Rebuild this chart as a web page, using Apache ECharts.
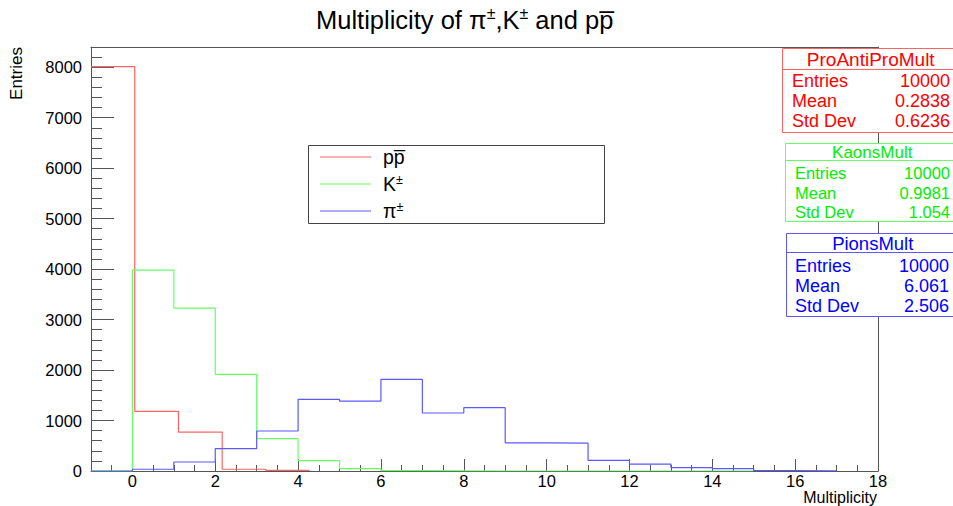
<!DOCTYPE html>
<html><head><meta charset="utf-8">
<script src="https://cdn.jsdelivr.net/npm/echarts@6/dist/echarts.min.js"></script>
<style>html,body{margin:0;padding:0;background:#fff}#c{width:953px;height:506px}</style>
</head><body><div id="c"></div>
<script>
// ---------- data ----------
const protonEdges  = [-1, 0.056, 1.111, 2.167, 3.222, 4.278];
const protonCounts = [8010, 1182, 772, 35, 12];
const kaonEdges    = [-1, 0, 1, 2, 3, 4, 5, 6, 7, 8, 9, 10, 11, 12, 13, 14, 15];
const kaonCounts   = [0, 3980, 3228, 1915, 641, 206, 48, 6, 2, 0, 0, 0, 0, 0, 0, 0];
const pionEdges    = [-1, 0, 1, 2, 3, 4, 5, 6, 7, 8, 9, 10, 11, 12, 13, 14, 15, 16, 17];
const pionCounts   = [0, 35, 178, 443, 792, 1420, 1386, 1816, 1149, 1255, 558, 552, 210, 138, 67, 48, 8, 3];
const seriesNames  = ['pp\u0305', 'K±', 'π±'];
const xMajorTicks  = [0, 2, 4, 6, 8, 10, 12, 14, 16, 18];
const yMajorTicks  = [0, 1000, 2000, 3000, 4000, 5000, 6000, 7000, 8000];
const statNames    = ['ProAntiProMult', 'KaonsMult', 'PionsMult'];
const statEntries  = ['10000', '10000', '10000'];
const statMeans    = ['0.2838', '0.9981', '6.061'];
const statStdDevs  = ['0.6236', '1.054', '2.506'];
const titleText    = 'Multiplicity of π±,K± and pp\u0305';
const xAxisTitle   = 'Multiplicity';
const yAxisTitle   = 'Entries';

// ---------- helpers ----------
const FONT = '"Liberation Sans", Arial, Helvetica, sans-serif';
const COLORS = ['#ff0000', '#00ee00', '#0000ff'];
const LINE_COLORS = ['#ff6464', '#66ff66', '#5a5aff'];
const AX = '#555';
function stepData(edges, counts) {
  const d = counts.map((c, i) => [edges[i], c]);
  d.push([edges[edges.length - 1], counts[counts.length - 1]]);
  return d;
}
function sup(s) { return s.replace(/±/g, '{s|±}'); }
const xMinor = []; for (let v = -0.5; v <= 17.5; v += 0.5) xMinor.push(v);
const yMinor = []; for (let v = 200; v <= 8400; v += 200) yMinor.push(v);

const hist = [[protonEdges, protonCounts], [kaonEdges, kaonCounts], [pionEdges, pionCounts]];

// stat boxes (annotation layout)
const boxes = [
  {x: 782.5, y: 48.5, h: 84, sep: 69.5, ty: 59, tf: 19, rows: [81, 101, 121], rf: 18, lx: 792, rx: 950},
  {x: 785.5, y: 143.5, h: 78, sep: 160.5, ty: 152.5, tf: 17, rows: [173, 192.5, 211.5], rf: 16.5, lx: 795, rx: 950},
  {x: 786.5, y: 233.5, h: 83, sep: 252.5, ty: 243, tf: 18.5, rows: [265.5, 285.5, 306], rf: 18, lx: 795, rx: 949}
];
const graphics = [];
boxes.forEach((b, i) => {
  const col = COLORS[i];
  graphics.push({type: 'rect', z: 100, shape: {x: b.x, y: b.y, width: 200, height: b.h},
    style: {fill: '#fff', stroke: LINE_COLORS[i], lineWidth: 1}});
  graphics.push({type: 'line', z: 101, shape: {x1: b.x, y1: b.sep, x2: 953, y2: b.sep},
    style: {stroke: LINE_COLORS[i], lineWidth: 1}});
  graphics.push({type: 'text', z: 102, style: {text: statNames[i], x: (b.x + 953) / 2 + 3, y: b.ty,
    align: 'center', verticalAlign: 'middle', fill: col, fontSize: b.tf, fontFamily: FONT}});
  const labels = ['Entries', 'Mean', 'Std Dev'];
  const vals = [statEntries[i], statMeans[i], statStdDevs[i]];
  labels.forEach((l, k) => {
    graphics.push({type: 'text', z: 102, style: {text: l, x: b.lx, y: b.rows[k], align: 'left',
      verticalAlign: 'middle', fill: col, fontSize: b.rf, fontFamily: FONT}});
    graphics.push({type: 'text', z: 102, style: {text: vals[k], x: b.rx, y: b.rows[k], align: 'right',
      verticalAlign: 'middle', fill: col, fontSize: b.rf, fontFamily: FONT}});
  });
});
// legend frame
graphics.push({type: 'rect', z: 1, shape: {x: 308.5, y: 145.5, width: 296, height: 78},
  style: {fill: '#fff', stroke: '#444', lineWidth: 1}});
// axis titles
graphics.push({type: 'text', z: 50, style: {text: xAxisTitle, x: 877, y: 497.5, align: 'right',
  verticalAlign: 'middle', fill: '#000', fontSize: 16, lineHeight: 13, fontFamily: FONT}});
graphics.push({type: 'text', z: 50, rotation: Math.PI / 2, x: 16, y: 47,
  style: {text: yAxisTitle, x: 0, y: 0, align: 'right', verticalAlign: 'middle', fill: '#000',
    fontSize: 17, fontFamily: FONT}});

const chart = echarts.init(document.getElementById('c'), null, {renderer: 'svg'});
chart.setOption({
  animation: false,
  backgroundColor: '#fff',
  title: {
    text: sup(titleText), left: 316, top: 5, padding: 0,
    textStyle: {fontSize: 25.5, fontWeight: 'normal', color: '#000', fontFamily: FONT, lineHeight: 30,
      rich: {s: {fontSize: 16, fontFamily: FONT, color: '#000', verticalAlign: 'top', lineHeight: 17}}}
  },
  grid: {left: 91, top: 47, width: 787, height: 424, containLabel: false},
  legend: {
    orient: 'vertical', left: 320, top: 146, itemWidth: 51, itemHeight: 1.2, itemGap: 5, padding: 0,
    icon: 'rect',
    data: seriesNames, z: 5,
    formatter: n => sup(n),
    textStyle: {fontSize: 19.5, color: '#000', fontFamily: FONT, lineHeight: 22, padding: [0, 0, 0, 7],
      rich: {s: {fontSize: 12.5, fontFamily: FONT, color: '#000', verticalAlign: 'top', lineHeight: 12}}}
  },
  xAxis: [
    {type: 'value', min: -1, max: 18, position: 'bottom',
      axisLine: {show: true, onZero: false, lineStyle: {color: AX, width: 1}},
      axisTick: {show: true, inside: true, length: 12, customValues: xMajorTicks, lineStyle: {color: AX}},
      axisLabel: {show: true, customValues: xMajorTicks, fontSize: 16.5, lineHeight: 13, color: '#000', fontFamily: FONT, margin: 3,
        formatter: v => String(v)},
      splitLine: {show: false}},
    {type: 'value', min: -1, max: 18, position: 'bottom',
      axisLine: {show: false, onZero: false},
      axisTick: {show: true, inside: true, length: 6, customValues: xMinor, lineStyle: {color: AX}},
      axisLabel: {show: false}, splitLine: {show: false}},
    {type: 'value', min: -1, max: 18, position: 'top',
      axisLine: {show: true, onZero: false, lineStyle: {color: AX, width: 1}},
      axisTick: {show: false}, axisLabel: {show: false}, splitLine: {show: false}}
  ],
  yAxis: [
    {type: 'value', min: 0, max: 8400, position: 'left',
      axisLine: {show: true, onZero: false, lineStyle: {color: AX, width: 1}},
      axisTick: {show: true, inside: true, length: 23, customValues: yMajorTicks, lineStyle: {color: AX}},
      axisLabel: {show: true, customValues: yMajorTicks, fontSize: 16.5, color: '#000', fontFamily: FONT, margin: 9,
        formatter: v => String(v)},
      splitLine: {show: false}},
    {type: 'value', min: 0, max: 8400, position: 'left',
      axisLine: {show: false, onZero: false},
      axisTick: {show: true, inside: true, length: 11, customValues: yMinor, lineStyle: {color: AX}},
      axisLabel: {show: false}, splitLine: {show: false}},
    {type: 'value', min: 0, max: 8400, position: 'right',
      axisLine: {show: true, onZero: false, lineStyle: {color: AX, width: 1}},
      axisTick: {show: false}, axisLabel: {show: false}, splitLine: {show: false}}
  ],
  series: hist.map((h, i) => ({
    name: seriesNames[i], type: 'line', step: 'end', xAxisIndex: 0, yAxisIndex: 0,
    data: stepData(h[0], h[1]), symbol: 'none', showSymbol: false,
    lineStyle: {color: LINE_COLORS[i], width: 1.2}, itemStyle: {color: LINE_COLORS[i]},
    emphasis: {disabled: true}, z: 3
  })),
  graphic: graphics
});
</script>
</body></html>
